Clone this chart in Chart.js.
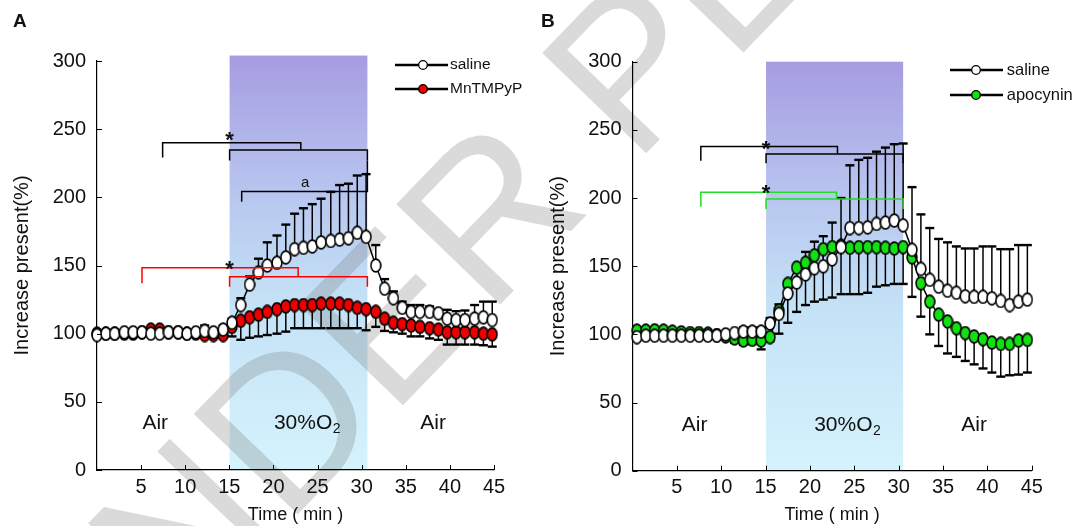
<!DOCTYPE html>
<html>
<head>
<meta charset="utf-8">
<script src="https://cdn.jsdelivr.net/npm/chart.js@4.4.0/dist/chart.umd.min.js"></script>
<style>
  body { margin: 0; background: #fff; }
  #wrap { position: relative; width: 1077px; height: 526px; overflow: hidden; font-family: "Liberation Sans", Arial, sans-serif; }
  canvas { position: absolute; top: 0; }
  #chartA { left: 0; }
  #chartB { left: 538px; }
  .panel { position: absolute; font-weight: bold; font-size: 19px; color: #111; }
</style>
</head>
<body>
<div id="wrap">
  <canvas id="chartA" width="538" height="526"></canvas>
  <canvas id="chartB" width="539" height="526"></canvas>
  <div class="panel" style="left:13px;top:10px">A</div>
  <div class="panel" style="left:541px;top:10px">B</div>
</div>
<script>
// ---- data ----
const xTicks = [5, 10, 15, 20, 25, 30, 35, 40, 45];
const yTicks = [0, 50, 100, 150, 200, 250, 300];

// panel A
const timeA = [0, 1.0, 2.0, 3.1, 4.1, 5.1, 6.1, 7.1, 8.1, 9.2, 10.2, 11.2, 12.2, 13.2, 14.3, 15.3, 16.3, 17.3, 18.3, 19.3, 20.4, 21.4, 22.4, 23.4, 24.4, 25.4, 26.5, 27.5, 28.5, 29.5, 30.5, 31.6, 32.6, 33.6, 34.6, 35.6, 36.6, 37.7, 38.7, 39.7, 40.7, 41.7, 42.8, 43.8, 44.8];
const salineA = [99, 100, 100, 101, 101, 101, 100, 100, 101, 101, 100, 101, 102, 101, 103,
  108, 121, 136, 145, 150, 152, 156, 162, 163, 164, 167, 168, 169, 170, 174, 171,
  150, 133, 126, 119, 116, 116, 116, 115, 111, 110, 110, 111, 112, 110];
const salineA_sem = [0, 0, 0, 0, 0, 0, 0, 0, 0, 0, 0, 0, 4, 0, 3,
  3, 5, 6, 10, 17, 20, 24, 26, 29, 31, 32, 36, 40, 40, 42, 46,
  15, 7, 5, 4.5, 5, 5, 4, 2.5, 6.5, 6.5, 7, 10, 11.5, 13.5];
const mnA = [100, 100, 100, 100, 100, 101, 103, 103, 101, 101, 100, 100, 99, 99, 99,
  105, 109.5, 112, 114, 116, 118, 120, 121, 121, 121, 122, 122, 122, 121, 119, 118,
  116, 111, 108, 107, 106, 105, 104, 103, 101, 101, 101, 101, 100, 99.5];
const mnA_sem = [0, 0, 0, 0, 0, 0, 0, 0, 0, 0, 0, 0, 2, 2, 2,
  7, 14, 15, 16, 17, 18, 18.5, 17, 17, 17, 18, 18, 18, 17, 15, 15.5,
  11, 9, 7, 7, 8, 7, 7.5, 7.5, 9, 9, 9, 9, 8.5, 9];

// panel B
const timeB = [0.5, 1.5, 2.5, 3.5, 4.5, 5.5, 6.5, 7.5, 8.5, 9.5, 10.5, 11.5, 12.5, 13.5, 14.5, 15.5, 16.5, 17.5, 18.5, 19.5, 20.5, 21.5, 22.5, 23.5, 24.5, 25.5, 26.5, 27.5, 28.5, 29.5, 30.5, 31.5, 32.5, 33.5, 34.5, 35.5, 36.5, 37.5, 38.5, 39.5, 40.5, 41.5, 42.5, 43.5, 44.5];
const salineB = [98, 99, 99, 99, 99, 99, 99, 99, 99, 99, 100, 101, 102, 102, 102,
  108, 115, 130, 138, 144, 148.5, 150, 155, 164, 178, 178, 178.5, 181, 182, 183.5, 180,
  162, 148, 140, 135, 132, 130.5, 128, 127.5, 127.5, 126.5, 124.5, 121.5, 124, 125.5];
const salineB_sem = [0, 0, 0, 0, 0, 0, 0, 0, 0, 0, 0, 0, 3, 3, 3,
  4, 7, 9, 12, 16.5, 19.5, 22, 27, 36, 46, 50, 51, 53, 55, 56, 60,
  46, 40, 38, 35, 35.5, 34, 35, 35.5, 37, 38, 38, 41, 41.5, 40];
const apoB = [102.7, 102.7, 103, 102.7, 102, 101.5, 101, 101, 100.5, 99.5, 98.5, 97, 95.5, 96, 95.5,
  98, 117.5, 137, 149, 152.5, 158, 162.5, 164, 165, 163.5, 164, 164, 164, 163.5, 163, 164,
  156.5, 137.5, 124, 114.5, 109.5, 104.5, 101, 98.5, 96.5, 94, 93, 93, 95.5, 96];
const apoB_sem = [0, 0, 0, 0, 0, 0, 0, 0, 0, 2, 2, 3, 3, 3, 6.5,
  3, 17, 28.5, 32.5, 31, 34, 37, 37, 35.5, 34, 34.5, 33.5, 29, 27.5, 26, 27,
  29, 24.5, 24, 23, 23.5, 21, 20.5, 20.5, 21.5, 22, 24, 23, 25, 24];

// ---- drawing helpers ----
const FONT = '"Liberation Sans", Arial, sans-serif';
const GREEN = '#22dd22';

function ellipse(fill) {
  const c = document.createElement('canvas');
  c.width = 12; c.height = 15;
  const g = c.getContext('2d');
  g.beginPath();
  g.ellipse(6, 7.5, 4.9, 6.4, 0, 0, Math.PI * 2);
  g.fillStyle = fill;
  g.fill();
  g.lineWidth = 1.6;
  g.strokeStyle = '#000';
  g.stroke();
  return c;
}

function pts(t, v) {
  return t.map((x, i) => ({ x: x, y: v[i] }));
}

function drawMark(ctx, offX) {
  ctx.save();
  ctx.translate(75 - offX, 745);
  ctx.rotate(-0.803);
  ctx.font = '210px ' + FONT;
  ctx.fillStyle = 'rgba(120,120,120,0.27)';
  ctx.fillText('UNDER PEER REVIEW', 0, 0);
  ctx.restore();
}

// band + watermark, under everything
const backdrop = {
  id: 'backdrop',
  beforeDraw(chart, args, o) {
    const { ctx, chartArea, scales: { x, y } } = chart;
    ctx.save();
    ctx.fillStyle = '#fff';
    ctx.fillRect(0, 0, chart.width, chart.height);
    const x0 = x.getPixelForValue(o.band[0]);
    const x1 = x.getPixelForValue(o.band[1]);
    const y0 = y.getPixelForValue(o.band[2]);
    const grad = ctx.createLinearGradient(0, y0, 0, chartArea.bottom);
    grad.addColorStop(0, 'rgb(166,156,225)');
    grad.addColorStop(0.35, 'rgb(185,200,240)');
    grad.addColorStop(0.6, 'rgb(196,226,246)');
    grad.addColorStop(1, 'rgb(213,243,252)');
    ctx.fillStyle = grad;
    ctx.fillRect(x0, y0, x1 - x0, chartArea.bottom - y0);
    drawMark(ctx, o.offX);
    ctx.restore();
  }
};

// error bars, behind the markers
const errBars = {
  id: 'errBars',
  beforeDatasetsDraw(chart) {
    const { ctx, scales: { y } } = chart;
    ctx.save();
    ctx.strokeStyle = '#000';
    chart.data.datasets.forEach((ds, i) => {
      const meta = chart.getDatasetMeta(i);
      ds.data.forEach((p, j) => {
        const s = ds.sem[j];
        if (!s) return;
        const px = meta.data[j].x;
        const py = meta.data[j].y;
        const ey = y.getPixelForValue(p.y + ds.dir * s);
        ctx.lineWidth = 1.5;
        ctx.beginPath(); ctx.moveTo(px, py); ctx.lineTo(px, ey); ctx.stroke();
        ctx.lineWidth = 2.4;
        ctx.beginPath(); ctx.moveTo(px - 4.5, ey); ctx.lineTo(px + 4.5, ey); ctx.stroke();
      });
    });
    ctx.restore();
  }
};

// brackets, stars, phase labels, tick marks, legend
const notes = {
  id: 'notes',
  afterDraw(chart, args, o) {
    const { ctx, chartArea, scales: { x, y } } = chart;
    ctx.save();
    // inward tick marks
    ctx.strokeStyle = '#000';
    ctx.lineWidth = 1;
    xTicks.forEach(v => {
      const px = Math.round(x.getPixelForValue(v)) + 0.5;
      ctx.beginPath(); ctx.moveTo(px, chartArea.bottom); ctx.lineTo(px, chartArea.bottom - 5); ctx.stroke();
    });
    yTicks.forEach(v => {
      const py = Math.round(y.getPixelForValue(v)) + 0.5;
      ctx.beginPath(); ctx.moveTo(chartArea.left, py); ctx.lineTo(chartArea.left + 5, py); ctx.stroke();
    });
    // brackets
    ctx.lineWidth = 1.5;
    o.brackets.forEach(b => {
      ctx.strokeStyle = b[5];
      ctx.beginPath();
      ctx.moveTo(x.getPixelForValue(b[0]), y.getPixelForValue(b[3]));
      ctx.lineTo(x.getPixelForValue(b[0]), y.getPixelForValue(b[2]));
      ctx.lineTo(x.getPixelForValue(b[1]), y.getPixelForValue(b[2]));
      ctx.lineTo(x.getPixelForValue(b[1]), y.getPixelForValue(b[4]));
      ctx.stroke();
    });
    ctx.fillStyle = '#111';
    ctx.textAlign = 'center';
    ctx.textBaseline = 'alphabetic';
    ctx.font = 'bold 22px ' + FONT;
    o.stars.forEach(s => {
      ctx.fillText('*', x.getPixelForValue(s[0]), y.getPixelForValue(s[1]) + 12.6);
    });
    if (o.letter) {
      ctx.font = '15px ' + FONT;
      ctx.textBaseline = 'middle';
      ctx.fillText(o.letter[2], x.getPixelForValue(o.letter[0]), y.getPixelForValue(o.letter[1]));
    }
    // phase labels
    ctx.textBaseline = 'middle';
    ctx.font = '21px ' + FONT;
    const ly = y.getPixelForValue(o.phaseY);
    ctx.fillText('Air', x.getPixelForValue(o.phaseX[0]), ly);
    ctx.fillText('Air', x.getPixelForValue(o.phaseX[2]), ly);
    const main = '30%O';
    const w1 = ctx.measureText(main).width;
    ctx.font = '14px ' + FONT;
    const w2 = ctx.measureText('2').width;
    const cx = x.getPixelForValue(o.phaseX[1]) - (w1 + w2) / 2;
    ctx.textAlign = 'left';
    ctx.font = '21px ' + FONT;
    ctx.fillText(main, cx, ly);
    ctx.font = '14px ' + FONT;
    ctx.fillText('2', cx + w1 + 0.5, ly + 6);
    // legend
    const L = o.legend;
    L.items.forEach((it, i) => {
      const ry = L.y + i * L.gap;
      ctx.strokeStyle = '#000';
      ctx.lineWidth = 2.6;
      ctx.beginPath(); ctx.moveTo(L.x0, ry); ctx.lineTo(L.x1, ry); ctx.stroke();
      ctx.beginPath();
      ctx.arc(L.xm, ry, 4.3, 0, Math.PI * 2);
      ctx.fillStyle = it[1];
      ctx.fill();
      ctx.lineWidth = 1.3;
      ctx.stroke();
      ctx.fillStyle = '#111';
      ctx.font = L.size + 'px ' + FONT;
      ctx.textAlign = 'left';
      ctx.textBaseline = 'middle';
      ctx.fillText(it[0], L.xt, ry);
    });
    ctx.restore();
  }
};

function buildChart(id, g, series, extra) {
  return new Chart(document.getElementById(id), {
    type: 'line',
    data: {
      datasets: series.map(s => ({
        label: s.label,
        data: pts(s.t, s.v),
        sem: s.sem,
        dir: s.dir,
        borderColor: '#000',
        borderWidth: 1.5,
        pointStyle: ellipse(s.fill),
        pointRadius: 5,
        clip: false
      }))
    },
    options: {
      responsive: false,
      animation: false,
      events: [],
      layout: { padding: { left: 0, top: g.top, right: g.right, bottom: 0 } },
      plugins: {
        legend: { display: false },
        tooltip: { enabled: false },
        backdrop: { band: g.band, offX: g.offX },
        notes: extra
      },
      scales: {
        x: {
          type: 'linear', min: 0, max: 45,
          grid: { display: false, drawTicks: false },
          border: { display: true, color: '#000', width: 1.2 },
          ticks: { stepSize: 5, padding: 5, color: '#111', font: { size: 20, family: FONT }, callback: v => v === 0 ? '' : v },
          title: { display: true, text: 'Time ( min )', color: '#111', font: { size: 18, family: FONT }, padding: { top: 0, bottom: 0 } },
          afterFit: sc => { sc.height = g.xh; }
        },
        y: {
          min: 0, max: 300,
          grid: { display: false, drawTicks: false },
          border: { display: true, color: '#000', width: 1.2 },
          ticks: { stepSize: 50, padding: 11, color: '#111', font: { size: 20, family: FONT } },
          title: { display: true, text: 'Increase present(%)', color: '#111', font: { size: 20, family: FONT }, padding: { top: g.tp, bottom: 0 } },
          afterFit: sc => { sc.width = g.yw; }
        }
      }
    },
    plugins: [backdrop, errBars, notes]
  });
}

buildChart('chartA',
  { top: 61, right: 44, xh: 56, yw: 97, tp: 10, band: [15.03, 30.65, 304], offX: 0 },
  [
    { label: 'saline', t: timeA, v: salineA, sem: salineA_sem, dir: 1, fill: '#fff' },
    { label: 'MnTMPyP', t: timeA, v: mnA, sem: mnA_sem, dir: -1, fill: '#ee0000' }
  ],
  {
    brackets: [
      [7.44, 23.1, 240, 229.3, 234.7, '#000'],
      [15.03, 30.65, 234.7, 227, 227, '#000'],
      [16.4, 30.65, 204.2, 196.8, 227, '#000'],
      [5.1, 22.8, 148.4, 137, 141.8, '#f00'],
      [15.03, 30.65, 141.8, 134.5, 134.5, '#f00']
    ],
    stars: [[15.03, 246.5], [15.03, 151.6]],
    letter: [23.6, 210.3, 'a'],
    phaseX: [6.6, 23.8, 38.1],
    phaseY: 34.3,
    legend: { x0: 395, x1: 448, xm: 423, xt: 450, y: 65, gap: 24, size: 15.5, items: [['saline', '#fff'], ['MnTMPyP', '#ee0000']] }
  });

buildChart('chartB',
  { top: 61.7, right: 45.2, xh: 55.3, yw: 94.5, tp: 8, band: [15.05, 30.5, 300], offX: 538 },
  [
    { label: 'saline', t: timeB, v: salineB, sem: salineB_sem, dir: 1, fill: '#fff' },
    { label: 'apocynin', t: timeB, v: apoB, sem: apoB_sem, dir: -1, fill: '#11e011' }
  ],
  {
    brackets: [
      [7.7, 23.1, 237.8, 227.4, 232.3, '#000'],
      [15.05, 30.5, 232.3, 225.5, 225.5, '#000'],
      [7.7, 23.0, 204.2, 193.6, 199.3, GREEN],
      [15.05, 30.5, 199.3, 192, 192, GREEN]
    ],
    stars: [[15.05, 240], [15.05, 207.9]],
    letter: null,
    phaseX: [7.0, 24.2, 38.5],
    phaseY: 33.6,
    legend: { x0: 412, x1: 465, xm: 438, xt: 468.7, y: 70, gap: 25, size: 16.5, items: [['saline', '#fff'], ['apocynin', '#11e011']] }
  });
</script>
</body>
</html>
